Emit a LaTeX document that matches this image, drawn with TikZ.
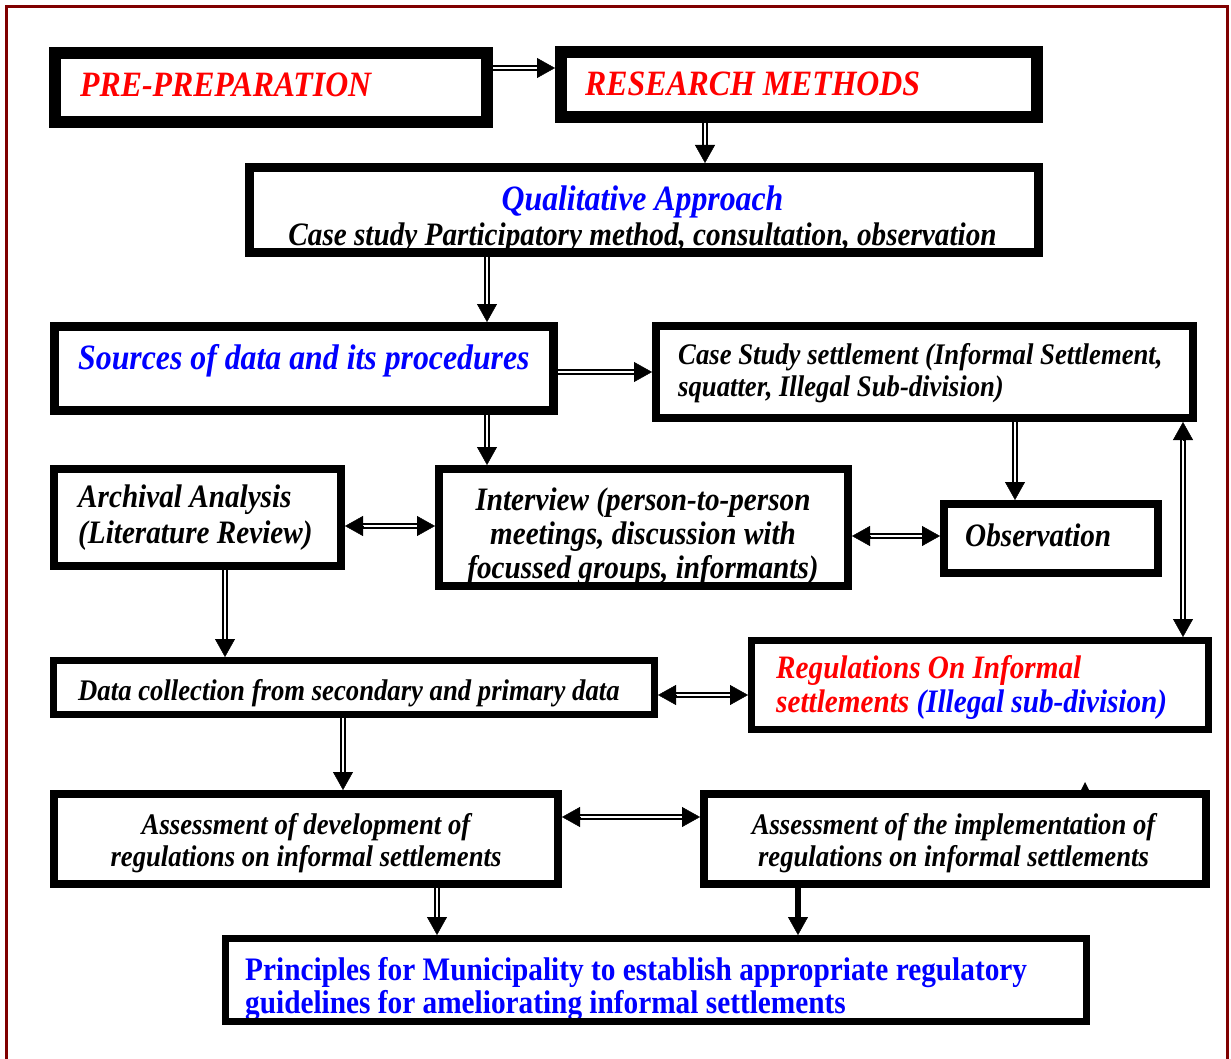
\documentclass[tikz,border=0pt]{standalone}
\usepackage{fontspec}
\setmainfont{Liberation Serif}
\usetikzlibrary{arrows.meta,calc}

\definecolor{framered}{HTML}{800000}
\definecolor{hdred}{HTML}{FF0000}
\definecolor{hdblue}{HTML}{0000FF}

% type sizes used in the chart
\newcommand\fbig{\fontsize{31.8pt}{36pt}\selectfont\bfseries\itshape}
\newcommand\fmid{\fontsize{29.2pt}{34pt}\selectfont\bfseries\itshape}
\newcommand\fsml{\fontsize{26.7pt}{31pt}\selectfont\bfseries\itshape}
\newcommand\fupr{\fontsize{29.3pt}{34pt}\selectfont\bfseries}
% slightly tall lettering
\newcommand\tall[1]{\scalebox{1}[1.12]{#1}}

\tikzset{
  box/.style={draw=black, inner sep=0pt},
  txt/.style={inner sep=0pt, anchor=base west},
  ctxt/.style={inner sep=0pt, anchor=base},
  shaft/.style={draw=black, line width=1.8pt, double=white, double distance=2.4pt},
  tip/.style={-{Triangle[length=18pt,width=20pt]}, line width=0.4pt},
  solidshaft/.style={draw=black, line width=6pt},
}

% one-headed and two-headed double-line connectors
\newcommand\onearrow[2]{%
  \draw[shaft, shorten >=16pt] #1 -- #2;
  \draw[tip] ($#2!18pt!#1$) -- #2;}
\newcommand\twoarrow[2]{%
  \draw[shaft, shorten >=16pt, shorten <=16pt] #1 -- #2;
  \draw[tip] ($#2!18pt!#1$) -- #2;
  \draw[tip] ($#1!18pt!#2$) -- #1;}

\begin{document}
\begin{tikzpicture}[x=1pt, y=-1pt]
\useasboundingbox (0,0) rectangle (1231,1059);

% outer frame
\draw[framered, line width=3pt] (6.5,6.5) rectangle (1227,1075);

% ---- texts ----
\node[txt, text=hdred] (preT) at (80,97) {\fbig\tall{PRE-PREPARATION}};
\node[txt, text=hdred] (resT) at (585,96) {\fbig\tall{RESEARCH METHODS}};

\node[ctxt, text=hdblue] (qualA) at (642.5,211) {\fbig\tall{Qualitative Approach}};
\node[ctxt] (qualB) at (642.5,246) {\fmid\tall{Case study Participatory method, consultation, observation}};

\node[txt, text=hdblue] (srcT) at (78,369) {\fbig\tall{Sources of data and its procedures}};

\node[txt] (caseA) at (678,364) {\fsml\tall{Case Study settlement (Informal Settlement,}};
\node[txt] (caseB) at (678,396) {\fsml\tall{squatter, Illegal Sub-division)}};

\node[txt] (archA) at (78,507) {\fmid\tall{Archival Analysis}};
\node[txt] (archB) at (78,543) {\fmid\tall{(Literature Review)}};

\node[ctxt] (intvA) at (643,510) {\fmid\tall{Interview (person-to-person}};
\node[ctxt] (intvB) at (643,544) {\fmid\tall{meetings, discussion with}};
\node[ctxt] (intvC) at (643,578) {\fmid\tall{focussed groups, informants)}};

\node[txt] (obsT) at (965,546) {\fmid\tall{Observation}};

\node[txt, text=hdred] (regA) at (776,678) {\fmid\tall{Regulations On Informal}};
\node[txt] (regB) at (776,712) {\fmid\tall{\textcolor{hdred}{settlements} \textcolor{hdblue}{(Illegal sub-division)}}};

\node[txt] (dataT) at (78,700) {\fsml\tall{Data collection from secondary and primary data}};

\node[ctxt] (adevA) at (306,834) {\fsml\tall{Assessment of development of}};
\node[ctxt] (adevB) at (306,866) {\fsml\tall{regulations on informal settlements}};

\node[ctxt] (aimpA) at (953.5,834) {\fsml\tall{Assessment of the implementation of}};
\node[ctxt] (aimpB) at (953.5,866) {\fsml\tall{regulations on informal settlements}};

\node[txt, text=hdblue] (prinA) at (245,980) {\fupr\tall{Principles for Municipality to establish appropriate regulatory}};
\node[txt, text=hdblue] (prinB) at (245,1013) {\fupr\tall{guidelines for ameliorating informal settlements}};

% ---- boxes (drawn over the texts) ----
\node[box, line width=12pt, minimum width=432pt, minimum height=69pt] (pre) at (271,87.5) {};
\node[box, line width=12pt, minimum width=476pt, minimum height=65pt] (res) at (799,84.5) {};
\node[box, line width=9pt, minimum width=789pt, minimum height=85pt] (qual) at (644,210) {};
\node[box, line width=9pt, minimum width=499pt, minimum height=84pt] (src) at (304,368.5) {};
\node[box, line width=8pt, minimum width=537pt, minimum height=92pt] (case) at (924.5,372) {};
\node[box, line width=8pt, minimum width=287pt, minimum height=97pt] (arch) at (197.5,517.5) {};
\node[box, line width=8pt, minimum width=409pt, minimum height=117pt] (intv) at (643.5,527.5) {};
\node[box, line width=8pt, minimum width=214pt, minimum height=69pt] (obs) at (1051,538.5) {};
\node[box, line width=7pt, minimum width=457pt, minimum height=89pt] (reg) at (980,685) {};
\node[box, line width=7pt, minimum width=601pt, minimum height=54pt] (data) at (354,687.5) {};
\node[box, line width=8pt, minimum width=504pt, minimum height=90pt] (adev) at (306,839) {};
\node[box, line width=8pt, minimum width=502pt, minimum height=90pt] (aimp) at (955,839) {};
\node[box, line width=7pt, minimum width=861pt, minimum height=83pt] (prin) at (656,980) {};

% ---- connectors ----
\onearrow{(pre.east |- 0,68)}{(res.west |- 0,68)}
\onearrow{(res.south -| 705,0)}{(qual.north -| 705,0)}
\onearrow{(qual.south -| 487,0)}{(src.north -| 487,0)}
\onearrow{(src.east |- 0,372)}{(case.west |- 0,372)}
\onearrow{(src.south -| 487,0)}{(intv.north -| 487,0)}
\twoarrow{(arch.east |- 0,526)}{(intv.west |- 0,526)}
\twoarrow{(intv.east |- 0,536)}{(obs.west |- 0,536)}
\onearrow{(case.south -| 1015,0)}{(obs.north -| 1015,0)}
\twoarrow{(case.south -| 1183,0)}{(reg.north -| 1183,0)}
\onearrow{(arch.south -| 225,0)}{(data.north -| 225,0)}
\twoarrow{(data.east |- 0,695)}{(reg.west |- 0,695)}
\onearrow{(data.south -| 343,0)}{(adev.north -| 343,0)}
\twoarrow{(adev.east |- 0,817)}{(aimp.west |- 0,817)}
\onearrow{(adev.south -| 437,0)}{(prin.north -| 437,0)}
\draw[solidshaft, shorten >=16pt] (aimp.south -| 798,0) -- (prin.north -| 798,0);
\draw[tip] ($(prin.north -| 798,0)!18pt!(aimp.south -| 798,0)$) -- (prin.north -| 798,0);

% small tip resting on the implementation box
\coordinate (stub) at (1085,782);
\fill (stub) -- ++(4,8) -- ++(-8,0) -- cycle;

\end{tikzpicture}
\end{document}
